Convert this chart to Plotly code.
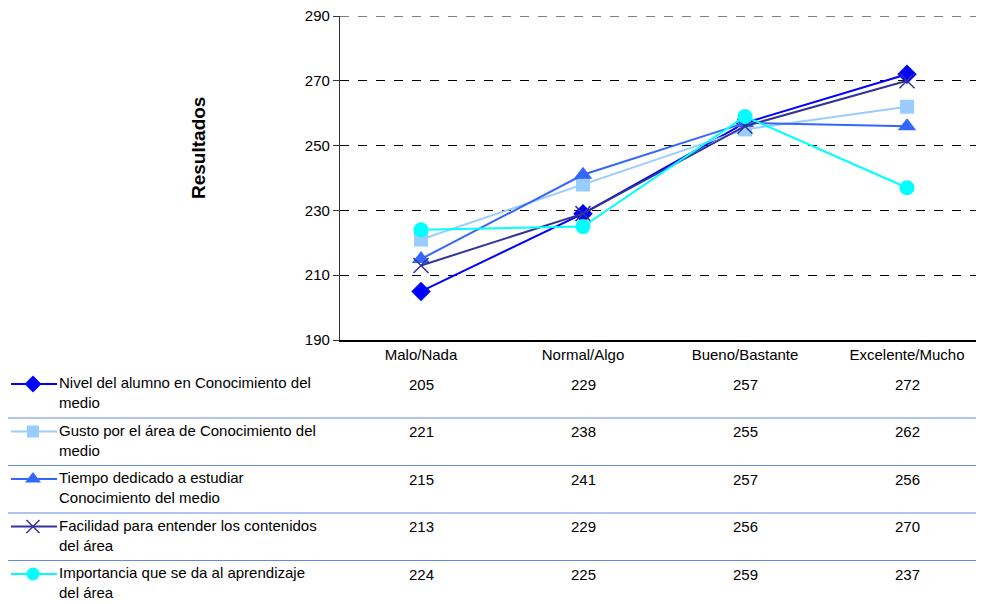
import plotly.graph_objects as go

# datos
categorias = ["Malo/Nada", "Normal/Algo", "Bueno/Bastante", "Excelente/Mucho"]
series = [
    "Nivel del alumno en Conocimiento del<br>medio",
    "Gusto por el área de Conocimiento del<br>medio",
    "Tiempo dedicado a estudiar<br>Conocimiento del medio",
    "Facilidad para entender los contenidos<br>del área",
    "Importancia que se da al aprendizaje<br>del área",
]
nivel = [205, 229, 257, 272]
gusto = [221, 238, 255, 262]
tiempo = [215, 241, 257, 256]
facilidad = [213, 229, 256, 270]
importancia = [224, 225, 259, 237]
valores = [nivel, gusto, tiempo, facilidad, importancia]
y_max = 290

colores = ["#0000FF", "#99CCFF", "#3366FF", "#333399", "#00FFFF"]
simbolos = ["diamond", "square", "triangle-up", "x-thin-open", "circle"]
tamanos = [15, 14, 16, 15, 15]

# la pagina tiene 8px de margen en el body
OFF = 8
W, H = 984 - OFF, 604 - OFF
fuente = "Liberation Sans, Arial, sans-serif"


def px_(x):
    return (x - OFF) / W


def py(y):
    # pixel desde arriba -> fraccion del papel
    return 1 - (y - OFF) / H


fig = go.Figure()

for nombre, vals, col, sim, tam in zip(series, valores, colores, simbolos, tamanos):
    mk = dict(symbol=sim, size=tam, color=col)
    if sim == "x-thin-open":
        mk["line"] = dict(color=col, width=1.5)
    fig.add_trace(go.Scatter(
        x=categorias, y=vals, name=nombre, mode="lines+markers",
        line=dict(color=col, width=2), marker=mk, showlegend=False,
    ))

# tabla de datos debajo del grafico
fila0, paso = 384, 47.5
anotaciones = []
formas = [dict(type="line", xref="paper", yref="y", x0=px_(340), x1=1,
               y0=y_max, y1=y_max, layer="below",
               line=dict(color="#000000", width=1, dash="dash"))]
for i, (nombre, vals, col, sim, tam) in enumerate(zip(series, valores, colores, simbolos, tamanos)):
    yc = fila0 + paso * i
    # clave de leyenda: linea
    formas.append(dict(type="line", xref="paper", yref="paper",
                       x0=px_(11), x1=px_(57), y0=py(yc), y1=py(yc),
                       line=dict(color=col, width=2)))
    # clave de leyenda: marcador
    mk = dict(symbol=sim, size=tam - 2, color=col)
    if sim == "x-thin-open":
        mk["line"] = dict(color=col, width=1.5)
    fig.add_trace(go.Scatter(x=[33 - OFF], y=[yc - OFF], mode="markers", marker=mk,
                             xaxis="x2", yaxis="y2", showlegend=False,
                             hoverinfo="skip"))
    anotaciones.append(dict(text=nombre, xref="paper", yref="paper",
                            x=px_(57), y=py(yc - 12), xanchor="left", yanchor="top",
                            align="left", showarrow=False,
                            font=dict(size=15, color="#000000", family=fuente)))
    for cat, v in zip(categorias, vals):
        anotaciones.append(dict(text=str(v), xref="x", yref="paper",
                                x=cat, y=py(yc), xanchor="center", yanchor="middle",
                                showarrow=False,
                                font=dict(size=15, color="#000000", family=fuente)))
    if i < len(series) - 1:
        formas.append(dict(type="line", xref="paper", yref="paper",
                           x0=px_(8), x1=1, y0=py(yc + 34), y1=py(yc + 34),
                           line=dict(color="#6688EE", width=1.2)))

anotaciones.append(dict(text="<b>Resultados</b>", xref="paper", yref="paper",
                        x=px_(198), y=py(148), textangle=-90, showarrow=False,
                        xanchor="center", yanchor="middle",
                        font=dict(size=19, color="#000000", family=fuente)))

fig.update_layout(
    width=W, height=H, autosize=False,
    margin=dict(l=0, r=0, t=0, b=0, autoexpand=False),
    paper_bgcolor="white", plot_bgcolor="rgba(0,0,0,0)",
    font=dict(family=fuente, size=15, color="#000000"),
    xaxis=dict(domain=[px_(340), 1], range=[-0.5, 3.5 - 4 / 162], type="category",
               showline=True, linecolor="#000000", linewidth=1.5, automargin=False,
               showgrid=False, ticks="", tickfont=dict(size=15), zeroline=False),
    yaxis=dict(domain=[py(340), py(16)], range=[190, y_max], tick0=190, dtick=20,
               showline=True, linecolor="#333333", linewidth=1.2, automargin=False,
               ticklabeloverflow="allow",
               ticks="outside", ticklen=6, tickcolor="#333333",
               showgrid=True, gridcolor="#000000", griddash="dash", gridwidth=1,
               zeroline=False, tickfont=dict(size=15)),
    xaxis2=dict(domain=[0, 1], range=[0, W], visible=False, anchor="y2",
                automargin=False),
    yaxis2=dict(domain=[0, 1], range=[H, 0], visible=False, anchor="x2",
                automargin=False),
    shapes=formas,
    annotations=anotaciones,
)

fig.write_html("out.html", config={"displayModeBar": False, "responsive": False})
